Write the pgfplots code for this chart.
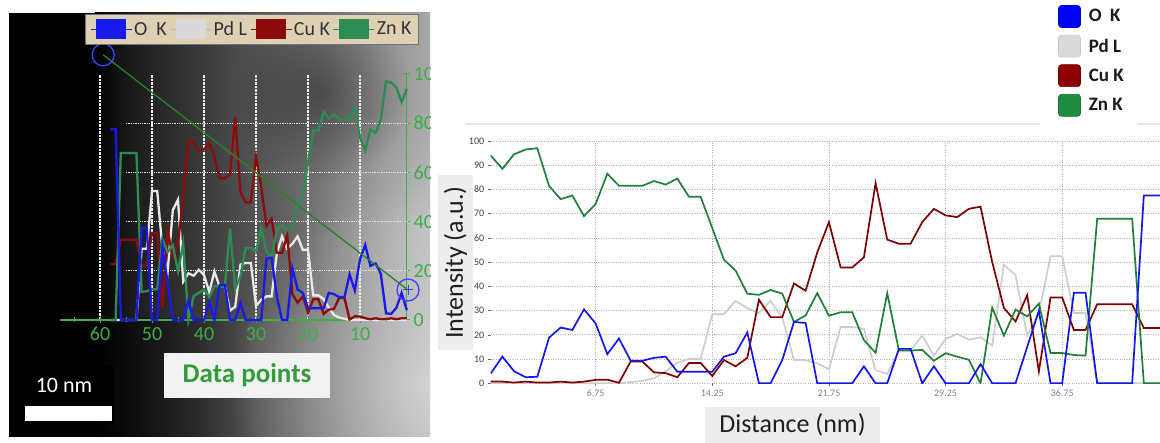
\documentclass[border=0pt]{standalone}
\usepackage{fontspec}
\setmainfont{Carlito}
\usepackage{pgfplots}
\pgfplotsset{compat=1.18}
\usepackage{pgfplotstable}
\usetikzlibrary{fadings}

\definecolor{cO}{RGB}{18,22,240}
\definecolor{cPd}{RGB}{205,205,205}
\definecolor{cCu}{RGB}{128,0,0}
\definecolor{cZn}{RGB}{32,128,56}
\definecolor{lO}{RGB}{0,0,255}
\definecolor{lPd}{RGB}{218,218,218}
\definecolor{lCu}{RGB}{140,0,0}
\definecolor{lZn}{RGB}{28,140,62}
\definecolor{tO}{RGB}{25,25,235}
\definecolor{tPd}{RGB}{232,232,232}
\definecolor{tCu}{RGB}{140,12,12}
\definecolor{tZn}{RGB}{45,140,85}
\definecolor{gax}{RGB}{60,175,75}
\definecolor{beige}{RGB}{222,208,178}
\definecolor{xgrey}{RGB}{122,132,153}
\definecolor{dpgreen}{RGB}{50,155,60}

\pgfdeclarehorizontalshading{tem}{100bp}{color(0bp)=(black); color(25bp)=(black); color(30bp)=(black!90); color(41bp)=(black!77); color(56bp)=(black!58); color(75bp)=(black!34); color(100bp)=(black!34)}
\tikzfading[name=softc, inner color=transparent!0, outer color=transparent!100]
\tikzfading[name=fadeR, left color=transparent!0, right color=transparent!100]

\pgfplotstableread{
i dist pt O Pd Cu Zn
0 0 1 4 0 0.7 94
1 0.75 2 11 0 0.7 88.5
2 1.5 3 5 0 0.3 94.5
3 2.25 4 2.5 0 0.7 96.5
4 3 5 2.7 0 0.3 97
5 3.75 6 18.8 0 0.3 81.5
6 4.5 7 23 0 0.7 76
7 5.25 8 22 0 0.3 77.5
8 6 9 30.5 0 0.7 69
9 6.75 10 24.7 0 1.4 74
10 7.5 11 12 0 1.5 86.5
11 8.25 12 18.5 0 0.2 81.5
12 9 13 9.3 0.5 9 81.5
13 9.75 14 9.3 1 9 81.5
14 10.5 15 10.5 2 4.5 83.5
15 11.25 16 11 5 4.2 82
16 12 17 4.8 8.5 2.5 84.5
17 12.75 18 4.8 10 8.4 77
18 13.5 19 4.8 10 8.4 77
19 14.25 20 4.8 28.5 3 64
20 15 21 11 28.5 9.6 51
21 15.75 22 12.4 34 7 46.5
22 16.5 23 21 31 10.5 37
23 17.25 24 0 29 34.5 36.5
24 18 25 0 34 27.3 38.5
25 18.75 26 9.6 27 27.3 37
26 19.5 27 25.3 9.6 41.2 25.3
27 20.25 28 24.9 9.6 38.2 28
28 21 29 0 8.2 54 37.2
29 21.75 30 0 5.8 66.5 27.9
30 22.5 31 0 23.2 47.8 29.3
31 23.25 32 0 23.2 47.8 29.3
32 24 33 7 22.5 52 17.8
33 24.75 34 0 5.4 82.6 12.6
34 25.5 35 0 3.8 59.3 37.2
35 26.25 36 14.2 13.8 57.6 13.5
36 27 37 14.2 13.5 57.6 13.5
37 27.75 38 0 19.7 66.5 13.8
38 28.5 39 7 11.4 72 9.3
39 29.25 40 0 18.3 69.3 12.4
40 30 41 0 20.4 68.6 11
41 30.75 42 0 18 72 9.7
42 31.5 43 7.9 19 72.9 0
43 32.25 44 0 15.6 50 31.2
44 33 45 0 48.9 31.1 19.7
45 33.75 46 0 44.7 25.5 30.4
46 34.5 47 15 19.7 36.4 27.6
47 35.25 48 30 29 4.9 32.9
48 36 49 0 52.4 35.4 12.5
49 36.75 50 0 52.4 35.4 12.5
50 37.5 51 37.4 29 22 11.7
51 38.25 52 37.4 29 22 11.4
52 39 53 0 0 32.6 67.9
53 39.75 54 0 0 32.6 67.9
54 40.5 55 0 0 32.6 67.9
55 41.25 56 0 0 32.6 67.9
56 42 57 77.5 0 22.8 0
57 42.75 58 77.5 0 22.8 0
58 43.5 59 77.5 0 22.8 0
}\data

\begin{document}
\begin{tikzpicture}[x=1pt,y=1pt]
\path[use as bounding box] (0,0) rectangle (1160,443);

% ---------------- left panel (image with overlay profile) ----------------
\begin{scope}
\clip (9,6) rectangle (430,430);
\fill[black] (9,6) rectangle (430,430);
\shade[shading=tem] (95,6) rectangle (430,430);
\fill[white, opacity=0.5, path fading=softc] (230,-140) rectangle (630,260);
\fill[white, opacity=0.25, path fading=softc] (300,100) rectangle (540,340);
\fill[black, opacity=0.35, path fading=softc] (230,260) rectangle (410,440);
\fill[black, path fading=fadeR] (9,6) rectangle (250,125);

\begin{axis}[
  at={(60pt,123pt)}, anchor=south west, scale only axis,
  width=346.7pt, height=246pt,
  xmin=-67.7, xmax=-1.02, ymin=0, ymax=100,
  /pgf/number format/assume math mode=true,
  axis x line*=bottom, axis y line*=right,
  axis line style={gax, line width=1.3pt},
  xtick={-60,-50,...,-10}, xticklabels={60,50,40,30,20,10},
  minor xtick={-65,-55,...,-5},
  ytick={0,20,...,100},
  tick style={gax, line width=1pt}, tick align=center,
  major tick length=7pt, minor tick length=5pt,
  ticklabel style={font=\fontsize{20}{20}\selectfont, text=gax},
  xmajorgrids, major grid style={white!85!gray, densely dotted, line width=1.3pt},
  clip=false,
  legend columns=4, legend cell align=left,
  legend style={at={(axis description cs:0.0721,1.2439)}, anchor=north west,
    fill=beige, draw=black!55, line width=0.8pt, inner sep=5pt,
    font=\fontsize{20}{20}\selectfont, text=black!80,
    nodes={inner sep=2pt},
    /tikz/every even column/.append style={column sep=1pt}},
]
\addlegendimage{legend image code/.code={\draw[tO, line width=0.8pt] (0pt,0pt) -- (41pt,0pt); \fill[tO] (6pt,-9.5pt) rectangle (35pt,9.5pt);}}
\addlegendentry{O~~K}
\addlegendimage{legend image code/.code={\draw[tPd!80!black, line width=0.8pt] (0pt,0pt) -- (41pt,0pt); \fill[tPd!93!black] (6pt,-9.5pt) rectangle (35pt,9.5pt);}}
\addlegendentry{Pd L}
\addlegendimage{legend image code/.code={\draw[tCu, line width=0.8pt] (0pt,0pt) -- (41pt,0pt); \fill[tCu] (6pt,-9.5pt) rectangle (35pt,9.5pt);}}
\addlegendentry{Cu K}
\addlegendimage{legend image code/.code={\draw[tZn, line width=0.8pt] (0pt,0pt) -- (41pt,0pt); \fill[tZn] (6pt,-9.5pt) rectangle (35pt,9.5pt);}}
\addlegendentry{Zn K}

\draw[white!80!gray, densely dotted, line width=1.3pt] (axis cs:-55,20) -- (axis cs:-1.02,20);
\draw[white!80!gray, densely dotted, line width=1.3pt] (axis cs:-55,40) -- (axis cs:-1.02,40);
\draw[white!80!gray, densely dotted, line width=1.3pt] (axis cs:-55,60) -- (axis cs:-1.02,60);
\draw[white!80!gray, densely dotted, line width=1.3pt] (axis cs:-55,80) -- (axis cs:-1.02,80);

\addplot[forget plot, tPd, line width=2.3pt, skip coords between index={58}{59}] table[x expr=-\thisrow{pt}, y=Pd] {\data};
\addplot[forget plot, tCu, line width=2.3pt, skip coords between index={58}{59}] table[x expr=-\thisrow{pt}, y=Cu] {\data};
\addplot[forget plot, tZn, line width=2.3pt, skip coords between index={58}{59}] table[x expr=-\thisrow{pt}, y=Zn] {\data};
\addplot[forget plot, tO, line width=2.3pt, skip coords between index={58}{59}] table[x expr=-\thisrow{pt}, y=O] {\data};

\addplot[forget plot, color={rgb,255:red,40;green,130;blue,40}, line width=1.3pt] coordinates {(-59.4,107.8) (-0.77,12.2)};
\addplot[forget plot, only marks, mark=o, mark size=11pt, mark options={draw=blue!75, line width=1.3pt}] coordinates {(-59.4,107.8) (-0.77,12.2)};
\addplot[forget plot, only marks, mark=+, mark size=5pt, mark options={draw=blue!75, line width=1pt}] coordinates {(-0.77,12.2)};
\end{axis}

% scale bar
\fill[black] (23,21) rectangle (114,77);
\fill[white] (25,22) rectangle (112,37);
\node[text=white, font=\fontsize{22}{22}\selectfont, anchor=base] at (64,50) {10 nm};
% axis label of overlay
\node[fill=black!5, minimum width=166pt, minimum height=45pt, inner sep=0pt,
      text=dpgreen, font=\bfseries\fontsize{27}{27}\selectfont] at (247,67.5) {Data points};
\end{scope}

% ---------------- right panel ----------------
\draw[black!10, line width=1.5pt] (465,319) -- (1040,319);
\draw[black!10, line width=1.5pt] (1137,319) -- (1160,319);

\begin{axis}[
  at={(490.7pt,59.7pt)}, anchor=south west, scale only axis,
  width=669.3pt, height=242.3pt,
  xmin=0, xmax=43.04, ymin=0, ymax=100,
  /pgf/number format/assume math mode=true,
  axis line style={draw=none},
  xtick={6.75,14.25,21.75,29.25,36.75},
  xticklabels={6.75,14.25,21.75,29.25,36.75},
  ytick={0,10,...,100},
  xtick pos=lower, ytick pos=lower,
  tick align=outside, major tick length=3pt,
  tick style={black!60, line width=0.6pt},
  xticklabel style={font=\fontsize{10}{10}\selectfont, text=xgrey},
  yticklabel style={font=\fontsize{10}{10}\selectfont, text=black!75},
  grid=major, major grid style={dotted, black!30, line width=0.8pt},
  legend cell align=left,
  legend style={at={(axis description cs:0.8476,1.5613)}, anchor=north west,
    draw=none, fill=white, inner sep=0pt, row sep=7pt,
    font=\bfseries\fontsize{19}{19}\selectfont, text=black!90,
    nodes={inner sep=2pt},
    /tikz/every odd column/.append style={column sep=6pt}},
]
\addlegendimage{legend image code/.code={\filldraw[fill=lO, draw=lO!85!black, line width=0.6pt, rounded corners=3pt] (0pt,-11pt) rectangle (22pt,11pt);}}
\addlegendentry{O~~K}
\addlegendimage{legend image code/.code={\filldraw[fill=lPd, draw=lPd!92!black, line width=0.6pt, rounded corners=3pt] (0pt,-11pt) rectangle (22pt,11pt);}}
\addlegendentry{Pd L}
\addlegendimage{legend image code/.code={\filldraw[fill=lCu, draw=lCu!85!black, line width=0.6pt, rounded corners=3pt] (0pt,-11pt) rectangle (22pt,11pt);}}
\addlegendentry{Cu K}
\addlegendimage{legend image code/.code={\filldraw[fill=lZn, draw=lZn!85!black, line width=0.6pt, rounded corners=3pt] (0pt,-11pt) rectangle (22pt,11pt);}}
\addlegendentry{Zn K}

\addplot[forget plot, cPd, line width=1.7pt] table[x=dist, y=Pd] {\data};
\addplot[forget plot, cCu, line width=1.7pt] table[x=dist, y=Cu] {\data};
\addplot[forget plot, cZn, line width=1.7pt] table[x=dist, y=Zn] {\data};
\addplot[forget plot, cO, line width=1.7pt] table[x=dist, y=O] {\data};
\end{axis}

\node[rotate=90, fill=black!7, minimum width=175pt, minimum height=35pt, inner sep=0pt,
      font=\fontsize{26}{26}\selectfont, text=black!88] at (455.5,180.5) {Intensity (a.u.)};
\node[fill=black!7, minimum width=175pt, minimum height=36pt, inner sep=0pt,
      font=\fontsize{26}{26}\selectfont, text=black!88] at (792.5,18) {Distance (nm)};
\end{tikzpicture}
\end{document}
